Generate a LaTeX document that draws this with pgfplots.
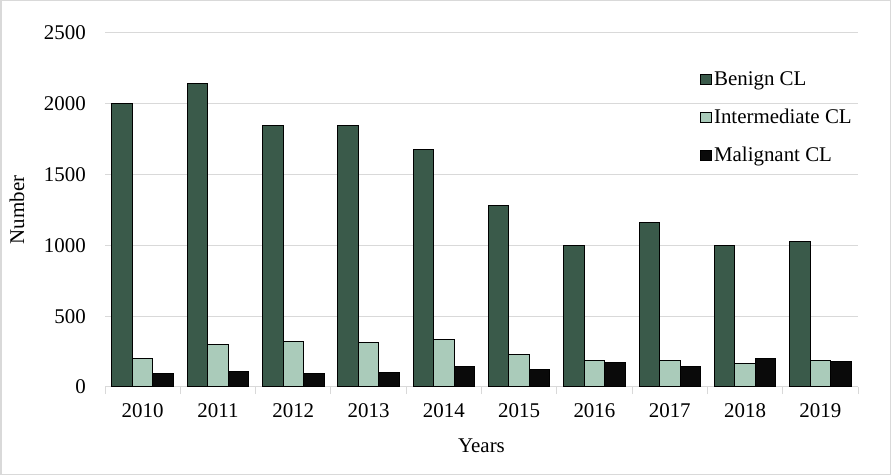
\documentclass[border=0pt]{standalone}
\usepackage{fontspec}
\setmainfont{Liberation Serif}
\usepackage{pgfplots}
\pgfplotsset{compat=1.18}
\definecolor{benign}{HTML}{3A5A4A}
\definecolor{inter}{HTML}{AACBBA}
\definecolor{malig}{HTML}{0A0A0A}
\definecolor{gridc}{HTML}{D9D9D9}
\begin{document}
\fontsize{21}{25}\selectfont
\begin{tikzpicture}
\begin{axis}[
  at={(105bp,88bp)}, anchor=south west,
  scale only axis, width=753bp, height=354bp,
  ybar=0pt, bar width=20.5bp,
  xmin=-0.5, xmax=9.5, ymin=0, ymax=2500,
  ytick={0,500,...,2500},
  xtick={0,...,9},
  xticklabels={2010,2011,2012,2013,2014,2015,2016,2017,2018,2019},
  minor xtick={-0.5,0.5,...,9.5},
  major tick length=0pt, minor tick length=7bp, tick align=outside,
  minor tick style={gridc, line width=1bp},
  axis x line*=bottom, axis y line*=left,
  x axis line style={gridc, line width=1bp, -},
  y axis line style={draw=none},
  ymajorgrids, grid style={gridc, line width=1bp},
  /pgf/number format/assume math mode=true,
  /pgf/number format/1000 sep={},
  scaled y ticks=false,
  tick label style={font=\fontsize{21}{25}\selectfont},
  x tick label style={anchor=base, inner sep=0pt, yshift=-31bp},
  y tick label style={anchor=east, inner sep=0pt, xshift=-19bp},
  label style={font=\fontsize{21}{25}\selectfont},
  xlabel={Years}, ylabel={Number},
  x label style={at={(axis description cs:0.5,0)}, anchor=base, inner sep=0pt, yshift=-65bp},
  y label style={at={(axis description cs:-0.1169,0.5)}, anchor=center, inner sep=0pt},
  legend style={at={(0.786,0.904)}, anchor=north west, draw=none, fill=none,
    font=\fontsize{21}{25}\selectfont, row sep=16.5bp, cells={anchor=west}},
  legend image code/.code={\draw[#1, draw=black, line width=1bp] (0bp,-5bp) rectangle (11bp,5bp);},
  every axis plot/.append style={draw=black, line width=1bp},
]
\addplot[fill=benign] coordinates {(0,2000) (1,2140) (2,1850) (3,1850) (4,1680) (5,1285) (6,1000) (7,1165) (8,1000) (9,1030)};
\addplot[fill=inter] coordinates {(0,198) (1,300) (2,319) (3,314) (4,335) (5,231) (6,190) (7,190) (8,167) (9,185)};
\addplot[fill=malig] coordinates {(0,96) (1,107) (2,95) (3,103) (4,143) (5,121) (6,176) (7,148) (8,200) (9,183)};
\legend{Benign CL, Intermediate CL, Malignant CL}
\end{axis}
\pgfresetboundingbox
\path[use as bounding box] (0,0) rectangle (891bp,475bp);
\draw[gridc, line width=1.5bp] (0.75bp,0.75bp) rectangle (890.25bp,474.25bp);
\end{tikzpicture}
\end{document}
